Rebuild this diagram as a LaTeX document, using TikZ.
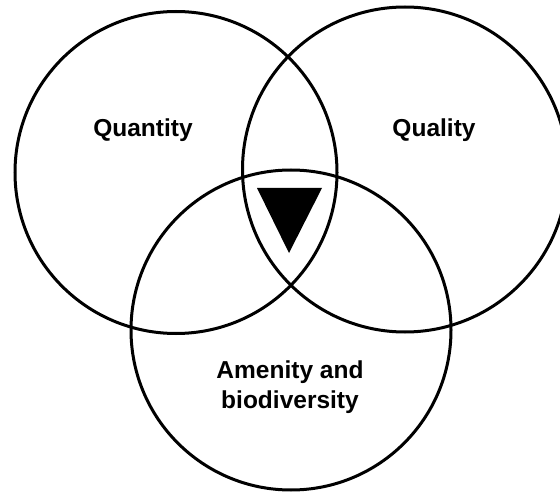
\documentclass[tikz,border=0pt]{standalone}
\usepackage{fontspec}
\setmainfont{Liberation Sans}
\begin{document}
\begin{tikzpicture}[x=1pt,y=-1pt,
  ring/.style={draw=black,line width=3pt,circle,minimum size=#1,inner sep=0pt},
  lbl/.style={font=\bfseries\fontsize{24.5}{30}\selectfont,align=center,text=black}]
\useasboundingbox (0,0) rectangle (560,492);
\clip (0,0) rectangle (560,492);
\node[ring=322pt] (quant) at (176,172.5) {};
\node[ring=325pt] (qual) at (405,169.5) {};
\node[ring=320pt] (amen) at (291,330) {};
\fill[black] (257,188) -- (322,188) -- (289,253) -- cycle;
\node[lbl] (tquant) at (143,130) {Quantity};
\node[lbl] (tqual) at (434,130) {Quality};
\node[lbl] (tamen) at (290,387) {Amenity and\\biodiversity};
\end{tikzpicture}
\end{document}
